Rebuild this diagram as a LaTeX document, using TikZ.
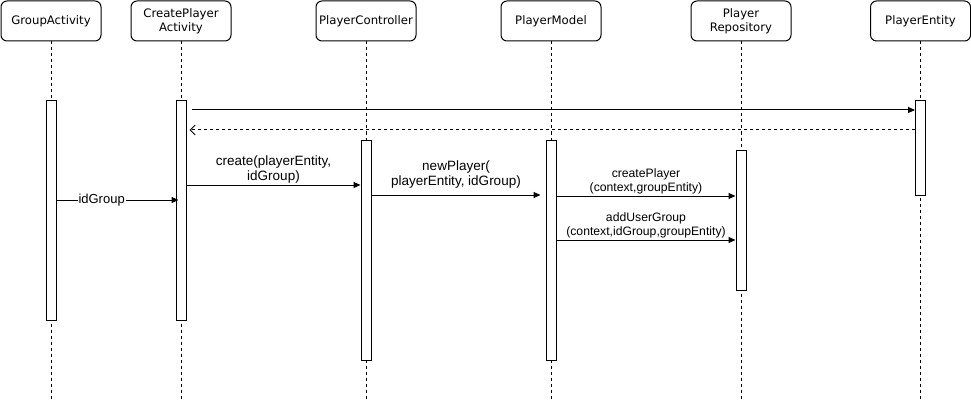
\documentclass[tikz,border=0pt]{standalone}
\usepackage{fontspec}
\setmainfont{Liberation Sans}
\newfontfamily\headfont{DejaVu Sans}
\usetikzlibrary{arrows.meta,calc}
\begin{document}
\begin{tikzpicture}[x=1pt,y=-1pt,line width=1pt,
  head/.style={draw,rounded corners=6pt,minimum width=100pt,minimum height=40pt,inner sep=0pt,align=center,anchor=north west,font=\headfont\fontsize{11.7}{14}\selectfont},
  life/.style={dash pattern=on 3pt off 3pt},
  actbar/.style={draw,fill=white,minimum width=10pt,inner sep=0pt,anchor=north},
  msg/.style={-{Triangle[length=7pt,width=6pt]}},
  ret/.style={dash pattern=on 3pt off 3pt,-{Straight Barb[length=5pt,width=10pt]}},
  lbl/.style={font=\fontsize{13.5}{15}\selectfont,align=center,inner sep=1.5pt},
  slbl/.style={font=\fontsize{12.2}{14}\selectfont,align=center,inner sep=1pt}]
\useasboundingbox (0,0) rectangle (971,401);
\coordinate (bottom) at (0,401);
% heads
\node[head] (hGA) at (0.5,0.5) {GroupActivity};
\node[head] (hCP) at (130.5,0.5) {CreatePlayer\\Activity};
\node[head] (hPC) at (315.5,0.5) {PlayerController};
\node[head] (hPM) at (500.5,0.5) {PlayerModel};
\node[head] (hPR) at (690.5,0.5) {Player\\Repository};
\node[head] (hPE) at (870,0.5) {PlayerEntity};
% lifelines
\foreach \h in {hGA,hCP,hPC,hPM,hPR,hPE}{
  \draw[life] (\h.south) -- (\h.south |- bottom);
}
% activation bars
\node[actbar,minimum height=220pt] (bGA) at (hGA.south |- 0,100) {};
\node[actbar,minimum height=220pt] (bCP) at (hCP.south |- 0,100) {};
\node[actbar,minimum height=220pt] (bPC) at (hPC.south |- 0,140) {};
\node[actbar,minimum height=220pt] (bPM) at (hPM.south |- 0,140) {};
\node[actbar,minimum height=140pt] (bPR) at (hPR.south |- 0,150) {};
\node[actbar,minimum height=95pt] (bPE) at (hPE.south |- 0,100) {};
% messages
\draw[msg] ($(bCP.east |- 0,110)+(5,0)$) -- (bPE.west |- 0,110);
\draw[ret] (bPE.west |- 0,130) -- ($(bCP.east |- 0,130)+(3,0)$);
\draw[msg] (bCP.east |- 0,185) -- node[lbl,above]{create(playerEntity,\\idGroup)} (bPC.west |- 0,185);
\draw[msg] (bGA.east |- 0,200) -- node[pos=0.37,fill=white,font=\fontsize{13}{15}\selectfont,inner sep=1pt]{idGroup} ($(bCP.west |- 0,200)+(3,0)$);
\draw[msg] (bPC.east |- 0,195) -- node[lbl,above=5pt]{newPlayer(\\playerEntity, idGroup)} ($(bPM.west |- 0,195)+(-5,0)$);
\draw[msg] (bPM.east |- 0,196) -- node[slbl,above]{createPlayer\\(context,groupEntity)} (bPR.west |- 0,196);
\draw[msg] (bPM.east |- 0,240) -- node[slbl,above]{addUserGroup\\(context,idGroup,groupEntity)} (bPR.west |- 0,240);
\end{tikzpicture}
\end{document}
